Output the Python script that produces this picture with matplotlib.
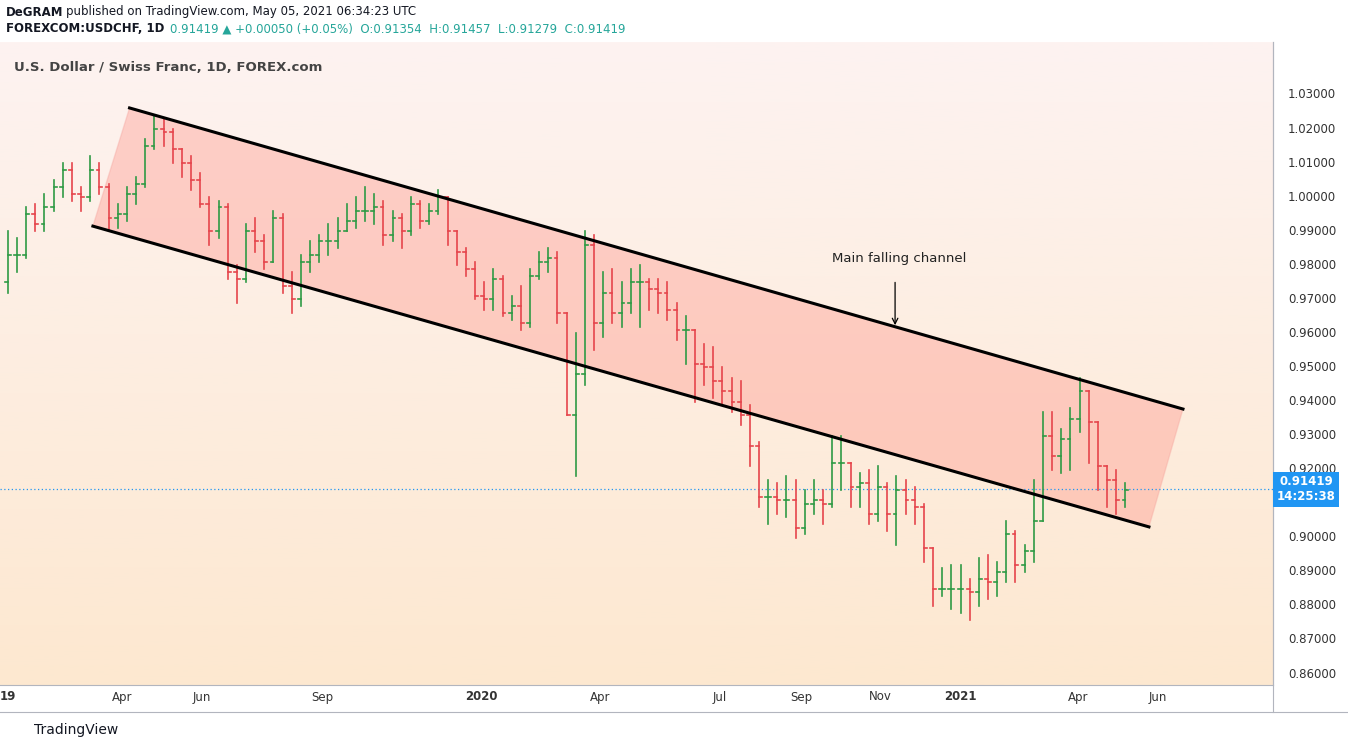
import numpy as np
import pandas as pd
import matplotlib
matplotlib.use("Agg")
import matplotlib.pyplot as plt
import matplotlib.dates as mdates
from matplotlib.colors import LinearSegmentedColormap

week_start = "2019-01-04"
closes = [0.983,0.983,0.995,0.992, 0.997,1.003,1.008,1.001, 1.000,1.008,1.003,0.994,0.995,
          1.001,1.004,1.015,1.020, 1.019,1.014,1.010,1.005,0.998, 0.990,0.997,0.978,0.976,
          0.990,0.987,0.981,0.994, 0.974,0.970,0.981,0.983,0.987, 0.987,0.990,0.993,0.996,
          0.996,0.997,0.989,0.994, 0.990,0.998,0.993,0.996,1.000, 0.990,0.984,0.979,0.971,
          0.970,0.976,0.966,0.968,0.963, 0.977,0.981,0.982,0.966, 0.936,0.948,0.986,0.963,
          0.972,0.966,0.969,0.975, 0.975,0.973,0.972,0.967,0.961, 0.961,0.951,0.950,0.946,
          0.943,0.940,0.936,0.927,0.912, 0.912,0.911,0.911,0.903, 0.910,0.911,0.910,0.922,
          0.922,0.915,0.916,0.907,0.915, 0.907,0.914,0.911,0.909, 0.897,0.885,0.885,0.885,
          0.885,0.884,0.888,0.887,0.890, 0.901,0.892,0.896,0.905, 0.930,0.924,0.929,0.935,
          0.943,0.934,0.921,0.917,0.911, 0.914]
highs = [0.990,0.988,0.997,0.998, 1.001,1.005,1.010,1.010, 1.003,1.012,1.010,1.004,0.998,
         1.003,1.006,1.017,1.024, 1.023,1.020,1.014,1.012,1.007, 1.000,0.999,0.998,0.980,
         0.992,0.994,0.989,0.996, 0.995,0.978,0.983,0.987,0.989, 0.992,0.994,0.998,1.000,
         1.003,1.001,0.999,0.996, 0.995,1.000,0.999,0.998,1.002, 1.000,0.990,0.985,0.981,
         0.975,0.979,0.977,0.971,0.974, 0.979,0.984,0.985,0.984, 0.966,0.960,0.990,0.989,
         0.978,0.979,0.975,0.979, 0.980,0.976,0.976,0.975,0.969, 0.965,0.956,0.957,0.956,
         0.950,0.947,0.946,0.939,0.928, 0.917,0.916,0.918,0.917, 0.914,0.917,0.914,0.930,
         0.930,0.922,0.919,0.920,0.921, 0.916,0.918,0.917,0.915, 0.910,0.892,0.891,0.892,
         0.892,0.888,0.894,0.895,0.893, 0.905,0.902,0.898,0.917, 0.937,0.937,0.932,0.938,
         0.947,0.938,0.926,0.920,0.920, 0.916]
lows = [0.972,0.978,0.982,0.990, 0.990,0.996,1.000,0.999, 0.996,0.999,1.001,0.990,0.991,
        0.993,0.998,1.003,1.014, 1.015,1.010,1.006,1.002,0.997, 0.986,0.988,0.976,0.969,
        0.975,0.984,0.979,0.982, 0.972,0.966,0.968,0.978,0.981, 0.983,0.985,0.990,0.991,
        0.993,0.992,0.986,0.987, 0.985,0.989,0.991,0.992,0.995, 0.986,0.980,0.977,0.970,
        0.967,0.967,0.965,0.964,0.961, 0.962,0.976,0.978,0.963, 0.937,0.918,0.945,0.955,
        0.959,0.963,0.962,0.966, 0.962,0.967,0.966,0.964,0.958, 0.951,0.940,0.945,0.941,
        0.939,0.937,0.933,0.921,0.909, 0.904,0.907,0.906,0.900, 0.901,0.907,0.904,0.909,
        0.914,0.909,0.909,0.904,0.905, 0.902,0.898,0.907,0.904, 0.893,0.880,0.883,0.879,
        0.878,0.876,0.880,0.882,0.883, 0.887,0.887,0.890,0.893, 0.905,0.920,0.919,0.920,
        0.931,0.922,0.914,0.909,0.907, 0.909]
first_open = 0.975

channel_upper = [("2019-04-07", 1.0262), ("2021-06-20", 0.9378)]
channel_lower = [("2019-03-10", 0.9915), ("2021-05-25", 0.9032)]
last_price = 0.91419
price_ticks = [0.86,0.87,0.88,0.89,0.90,0.92,0.93,0.94,0.95,0.96,0.97,0.98,0.99,1.00,1.01,1.02,1.03]
date_ticks = ["2019-04-01","2019-06-01","2019-09-01","2020-01-01","2020-04-01","2020-07-01",
              "2020-09-01","2020-11-01","2021-01-01","2021-04-01","2021-06-01"]
date_labels = ["Apr","Jun","Sep","2020","Apr","Jul","Sep","Nov","2021","Apr","Jun"]

W, H = 1348, 749
fig = plt.figure(figsize=(W/100, H/100), dpi=100)
fig.patch.set_facecolor("white")
ax = fig.add_axes([0, 1-685/H, 1273/W, 643/H])

x0 = mdates.date2num(pd.Timestamp("2019-01-01")) - 3
x1 = mdates.date2num(pd.Timestamp("2021-01-01")) + 238.8
y0, y1 = 0.85678, 1.04556
ax.set_xlim(x0, x1); ax.set_ylim(y0, y1)

cmap = LinearSegmentedColormap.from_list("bg", ["#fdf3f1", "#fde8d0"])
ax.imshow(np.linspace(0, 1, 256).reshape(-1, 1), cmap=cmap, aspect="auto",
          extent=[x0, x1, y0, y1], origin="upper", zorder=0)

ux = [mdates.date2num(pd.Timestamp(d)) for d, _ in channel_upper]
uy = [p for _, p in channel_upper]
lx = [mdates.date2num(pd.Timestamp(d)) for d, _ in channel_lower]
ly = [p for _, p in channel_lower]
ax.fill([ux[0], ux[1], lx[1], lx[0]], [uy[0], uy[1], ly[1], ly[0]],
        facecolor="#ff8a80", alpha=0.35, edgecolor="#f4a09a", lw=1, zorder=1)
ax.plot(ux, uy, color="black", lw=2.2, zorder=4)
ax.plot(lx, ly, color="black", lw=2.2, zorder=4)

dates = pd.date_range(week_start, periods=len(closes), freq="7D")
xs = mdates.date2num(dates)
opens = [first_open] + closes[:-1]
for x, o, h, l, c in zip(xs, opens, highs, lows, closes):
    col = "#2f9a45" if c >= o else "#e5454c"
    h = max(h, o, c); l = min(l, o, c)
    ax.plot([x, x], [l, h], color=col, lw=1.2, zorder=3)
    ax.plot([x-2.2, x], [o, o], color=col, lw=1.2, zorder=3)
    ax.plot([x, x+2.2], [c, c], color=col, lw=1.2, zorder=3)

ax.axhline(last_price, color="#2196f3", lw=0.9, ls=(0, (1, 2)), zorder=2)

ax.set_xticks([]); ax.set_yticks([])
for s in ax.spines.values():
    s.set_color("#b2b5be"); s.set_linewidth(0.8)
ax.spines["top"].set_visible(False); ax.spines["left"].set_visible(False)

ax.text(0.011, 0.97, "U.S. Dollar / Swiss Franc, 1D, FOREX.com", transform=ax.transAxes,
        fontsize=9.5, color="#444", fontweight="bold", va="top")

arrow_x = mdates.date2num(pd.Timestamp("2020-11-12"))
ax.annotate("", xy=(arrow_x, 0.9616), xytext=(arrow_x, 0.9758),
            arrowprops=dict(arrowstyle="->", color="black", lw=0.9))
ax.text(mdates.date2num(pd.Timestamp("2020-11-15")), 0.9820, "Main falling channel",
        ha="center", va="center", fontsize=9.5, color="#222")

def ypix(p):
    return 1 - (42 + (y1 - p) / (y1 - y0) * 643) / H

for p in price_ticks:
    fig.text(1312/W, ypix(p), f"{p:.5f}", fontsize=8.5, color="#333", ha="center", va="center")
fig.text(1306/W, ypix(last_price), f"{last_price:.5f}\n14:25:38", fontsize=8.5, color="white",
         ha="center", va="center", fontweight="bold",
         bbox=dict(boxstyle="square,pad=0.3", fc="#2196f3", ec="none"))

for d, lab in zip(date_ticks, date_labels):
    xp = (mdates.date2num(pd.Timestamp(d)) - x0) / (x1 - x0) * 1273 / W
    fig.text(xp, 1-697/H, lab, fontsize=8.5, color="#333", ha="center", va="center",
             fontweight="bold" if lab.isdigit() else "normal")
fig.text(8/W, 1-697/H, "19", fontsize=8.5, color="#333", ha="center", va="center", fontweight="bold")
fig.add_artist(plt.Line2D([0, 1], [1-712/H, 1-712/H], color="#b2b5be", lw=0.8))
fig.add_artist(plt.Line2D([1273/W, 1273/W], [1-712/H, 1-42/H], color="#b2b5be", lw=0.8))

fig.text(6/W, 1-12/H, "DeGRAM", fontsize=8.5, fontweight="bold", color="#131722", va="center")
fig.text(66/W, 1-12/H, "published on TradingView.com, May 05, 2021 06:34:23 UTC",
         fontsize=8.5, color="#131722", va="center")
fig.text(6/W, 1-29/H, "FOREXCOM:USDCHF, 1D", fontsize=8.5, fontweight="bold", color="#131722", va="center")
fig.text(170/W, 1-29/H, "0.91419 \u25B2 +0.00050 (+0.05%)  O:0.91354  H:0.91457  L:0.91279  C:0.91419",
         fontsize=8.5, color="#26a69a", va="center")
fig.text(34/W, 1-730/H, "TradingView", fontsize=10, color="#131722", va="center")

fig.savefig("out.png", dpi=100)
